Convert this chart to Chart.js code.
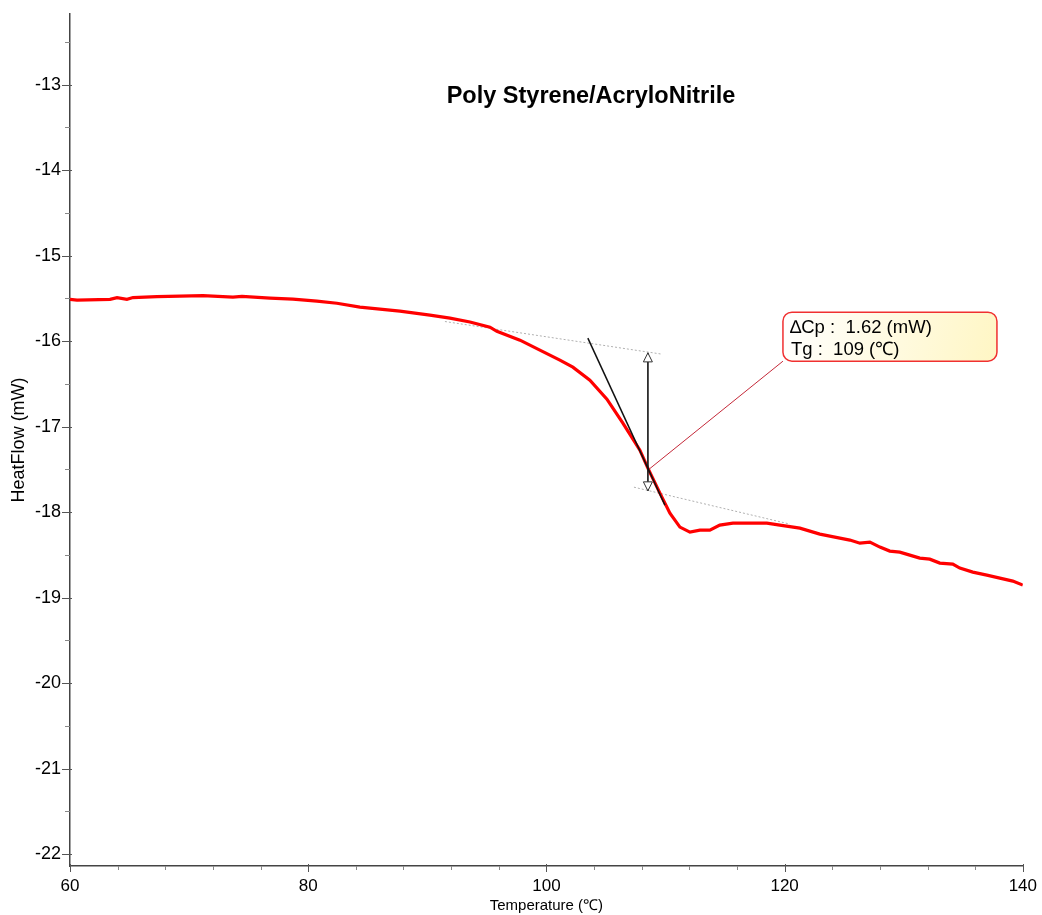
<!DOCTYPE html>
<html>
<head>
<meta charset="utf-8">
<title>Poly Styrene/AcryloNitrile</title>
<script src="https://cdn.jsdelivr.net/npm/chart.js@4.4.1/dist/chart.umd.min.js"></script>
<style>
  html, body { margin: 0; padding: 0; background: #fff; }
  #wrap { width: 1042px; height: 915px; }
</style>
</head>
<body>
<div id="wrap"><canvas id="dsc"></canvas></div>
<script>
// DSC trace
const temperature = [60.0, 60.59, 63.36, 63.95, 64.78, 65.29, 67.30, 71.16, 73.68, 74.44,
  76.79, 78.72, 80.73, 82.41, 84.34, 87.70, 90.22, 91.90, 93.58, 95.26,
  95.84, 97.78, 99.45, 101.13, 102.22, 103.65, 105.08, 106.42, 107.85, 108.52, 109.53,
  110.37, 111.21, 112.05, 112.89, 113.72, 114.56, 115.66, 117.33, 118.51, 119.60,
  121.28, 122.96, 124.64, 125.48, 126.32, 127.16, 128.0, 128.83, 129.67, 130.51,
  131.35, 132.19, 133.03, 134.12, 134.71, 135.80, 136.98, 138.07, 139.16, 140.0];
const heatFlow = [-15.51, -15.52, -15.51, -15.49, -15.51, -15.49, -15.478, -15.466, -15.485, -15.476,
  -15.497, -15.509, -15.532, -15.556, -15.602, -15.649, -15.696, -15.731, -15.775, -15.836,
  -15.884, -15.988, -16.105, -16.222, -16.304, -16.456, -16.678, -16.959, -17.275, -17.485, -17.778,
  -18.012, -18.175, -18.234, -18.211, -18.211, -18.152, -18.129, -18.129, -18.129, -18.152,
  -18.187, -18.257, -18.304, -18.327, -18.363, -18.351, -18.409, -18.456, -18.468, -18.503,
  -18.538, -18.550, -18.596, -18.608, -18.655, -18.702, -18.737, -18.772, -18.807, -18.854];

// glass transition analysis
const upperBaseline = [[91.48, -15.77], [109.70, -16.152]];
const lowerBaseline = [[107.35, -17.708], [120.44, -18.14]];
const tangentLine = [[103.48, -15.965], [109.95, -17.918]];
const tgTemp = 108.52;
const tgFlow = -17.509;
const stepTop = -16.137;
const stepBottom = -17.751;
const labelAnchor = [119.86, -16.234];
const deltaCp = '1.62';
const tgValue = '109';

// axes
const xRange = [60, 140];
const yRange = [-22.14, -12.17];
const xTicks = [60, 80, 100, 120, 140];
const yTicks = [-13, -14, -15, -16, -17, -18, -19, -20, -21, -22];
const xMinorStep = 4;
const yMinorStep = 0.5;

const FONT = "'Liberation Sans', Arial, sans-serif";
const toPts = arr => arr.map(p => ({ x: p[0], y: p[1] }));

const minorTicks = (lo, hi, step) => {
  const out = [];
  const start = Math.ceil(lo / step - 1e-9);
  const end = Math.floor(hi / step + 1e-9);
  for (let i = start; i <= end; i++) out.push({ value: +(i * step).toFixed(4) });
  return out;
};

// tick marks: long for labelled values, short in between
const tickMarks = {
  id: 'tickMarks',
  afterDraw(chart) {
    const { ctx, scales: { x, y }, chartArea } = chart;
    ctx.save();
    ctx.lineWidth = 1;
    x.ticks.forEach(t => {
      const px = Math.round(x.getPixelForValue(t.value)) + 0.5;
      const major = xTicks.includes(t.value);
      ctx.strokeStyle = major ? '#555' : '#888';
      ctx.beginPath();
      ctx.moveTo(px, chartArea.bottom + (major ? -2 : 0));
      ctx.lineTo(px, chartArea.bottom + (major ? 6 : 4));
      ctx.stroke();
    });
    y.ticks.forEach(t => {
      const py = Math.round(y.getPixelForValue(t.value)) + 0.5;
      const major = yTicks.includes(t.value);
      ctx.strokeStyle = major ? '#555' : '#888';
      ctx.beginPath();
      ctx.moveTo(chartArea.left - (major ? 8 : 5), py);
      ctx.lineTo(chartArea.left + (major ? 2 : 0), py);
      ctx.stroke();
    });
    ctx.restore();
  }
};

// title, step arrow and result label
const annotations = {
  id: 'annotations',
  afterDraw(chart) {
    const { ctx, scales: { x, y }, chartArea } = chart;
    ctx.save();

    ctx.fillStyle = '#000';
    ctx.font = `bold 23.5px ${FONT}`;
    ctx.textAlign = 'center';
    ctx.textBaseline = 'middle';
    ctx.fillText('Poly Styrene/AcryloNitrile', chartArea.left + 521, chartArea.top + 83);

    // open arrow heads
    const ax = x.getPixelForValue(tgTemp);
    const head = (tipY, dir) => {
      ctx.beginPath();
      ctx.moveTo(ax, tipY);
      ctx.lineTo(ax - 4.5, tipY + dir * 9);
      ctx.lineTo(ax + 4.5, tipY + dir * 9);
      ctx.closePath();
      ctx.fillStyle = '#fff';
      ctx.fill();
      ctx.strokeStyle = '#333';
      ctx.lineWidth = 1;
      ctx.stroke();
    };
    head(y.getPixelForValue(stepTop), 1);
    head(y.getPixelForValue(stepBottom), -1);

    // label box
    const bx = x.getPixelForValue(labelAnchor[0]);
    const by = y.getPixelForValue(labelAnchor[1]);
    const w = 214, h = 49, r = 9;
    const top = by - h;
    const grad = ctx.createLinearGradient(bx, top, bx + w, by);
    grad.addColorStop(0, '#ffffff');
    grad.addColorStop(1, '#fff6c4');
    ctx.beginPath();
    ctx.roundRect(bx, top, w, h, r);
    ctx.fillStyle = grad;
    ctx.fill();
    ctx.strokeStyle = '#f03030';
    ctx.lineWidth = 1.5;
    ctx.stroke();

    ctx.fillStyle = '#000';
    ctx.font = `18.5px ${FONT}`;
    ctx.textAlign = 'left';
    ctx.fillText(`\u2206Cp :  ${deltaCp} (mW)`, bx + 7, top + 16);
    ctx.fillText(`Tg :  ${tgValue} (\u2103)`, bx + 8, top + 38);
    ctx.restore();
  }
};

const ctx = document.getElementById('dsc').getContext('2d');
new Chart(ctx, {
  type: 'line',
  data: {
    datasets: [
      {
        label: 'tangent',
        data: toPts(tangentLine),
        borderColor: '#111',
        borderWidth: 1.5,
        pointRadius: 0
      },
      {
        label: 'step',
        data: [{ x: tgTemp, y: stepTop }, { x: tgTemp, y: stepBottom }],
        borderColor: '#222',
        borderWidth: 1,
        pointRadius: 0
      },
      {
        label: 'leader',
        data: [{ x: tgTemp, y: tgFlow }, { x: labelAnchor[0], y: labelAnchor[1] }],
        borderColor: '#c42838',
        borderWidth: 1,
        pointRadius: 0
      },
      {
        label: 'HeatFlow',
        data: temperature.map((t, i) => ({ x: t, y: heatFlow[i] })),
        borderColor: '#ff0000',
        borderWidth: 3.2,
        pointRadius: 0,
        tension: 0
      },
      {
        label: 'baseline 1',
        data: toPts(upperBaseline),
        borderColor: '#b0b0b0',
        borderWidth: 1,
        borderDash: [2, 2],
        pointRadius: 0
      },
      {
        label: 'baseline 2',
        data: toPts(lowerBaseline),
        borderColor: '#b0b0b0',
        borderWidth: 1,
        borderDash: [2, 2],
        pointRadius: 0
      }
    ]
  },
  options: {
    responsive: true,
    maintainAspectRatio: false,
    animation: false,
    events: [],
    layout: { padding: { top: 13, right: 19, left: 0, bottom: 0 } },
    plugins: { legend: { display: false }, tooltip: { enabled: false } },
    scales: {
      x: {
        type: 'linear',
        min: xRange[0],
        max: xRange[1],
        afterBuildTicks: s => { s.ticks = minorTicks(xRange[0], xRange[1], xMinorStep); },
        afterFit: s => { s.height = 49; },
        grid: { display: false, drawTicks: true, tickLength: 5 },
        border: { display: true, color: '#444', width: 1.5 },
        ticks: {
          autoSkip: false,
          maxRotation: 0,
          padding: 5,
          color: '#000',
          font: { family: FONT, size: 17 },
          callback: v => (xTicks.includes(v) ? String(v) : '')
        },
        title: {
          display: true,
          text: 'Temperature (\u2103)',
          color: '#000',
          font: { family: FONT, size: 15 },
          padding: 0
        }
      },
      y: {
        type: 'linear',
        min: yRange[0],
        max: yRange[1],
        afterBuildTicks: s => { s.ticks = minorTicks(yRange[0], yRange[1], yMinorStep); },
        afterFit: s => { s.width = 70; },
        grid: { display: false, drawTicks: true, tickLength: 6 },
        border: { display: true, color: '#444', width: 1.5 },
        ticks: {
          autoSkip: false,
          padding: 3,
          color: '#000',
          font: { family: FONT, size: 18 },
          callback: v => (yTicks.includes(v) ? String(v) : '')
        },
        title: {
          display: true,
          text: 'HeatFlow (mW)',
          color: '#000',
          font: { family: FONT, size: 18 },
          padding: { top: 8, bottom: 0 }
        }
      }
    }
  },
  plugins: [tickMarks, annotations]
});
</script>
</body>
</html>
